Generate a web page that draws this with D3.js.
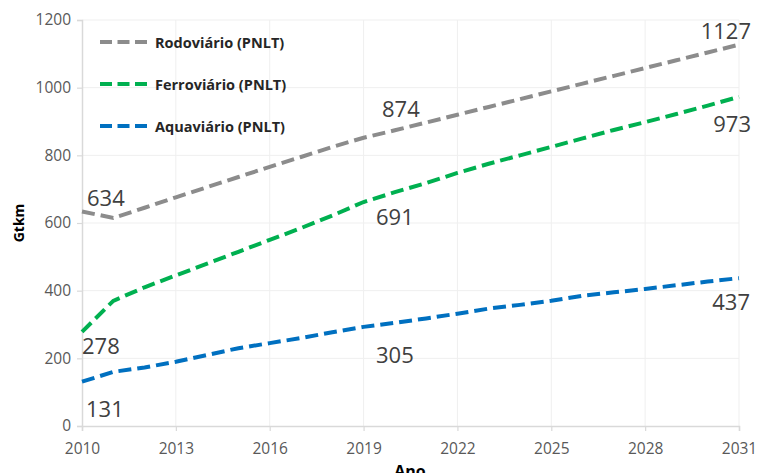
<!DOCTYPE html>
<html><head><meta charset="utf-8">
<script src="https://cdn.jsdelivr.net/npm/d3@7"></script>
<style>body{margin:0;background:#fff}svg{display:block}</style>
</head><body>
<svg id="c" width="758" height="473"></svg>
<script>
const years = d3.range(2010, 2032);
const rodoviario = [634,615,645,676,706,736,766,795,825,852,874,897,920,943,966,989,1012,1035,1058,1081,1104,1127];
const ferroviario = [278,370,410,445,480,515,550,585,622,662,691,718,748,775,800,825,850,875,898,922,947,973];
const aquaviario = [131,160,173,190,210,230,245,260,277,293,305,318,332,347,358,370,385,395,405,416,427,437];
const seriesNames = ["Rodoviário (PNLT)","Ferroviário (PNLT)","Aquaviário (PNLT)"];
const seriesColors = ["#8c8c8c","#00b050","#0070c0"];
const xTicks = [2010,2013,2016,2019,2022,2025,2028,2031];
const yTicks = [0,200,400,600,800,1000,1200];
// point labels: [seriesIndex, year, text]
const pointLabels = [[0,2010,"634"],[0,2020,"874"],[0,2031,"1127"],[1,2010,"278"],[1,2020,"691"],[1,2031,"973"],[2,2010,"131"],[2,2020,"305"],[2,2031,"437"]];

const svg = d3.select("#c");
const x = d3.scaleLinear().domain([2010,2031]).range([82,739]);
const y = d3.scaleLinear().domain([0,1200]).range([426,20]);
const data = [rodoviario, ferroviario, aquaviario];

// grid
svg.append("g").selectAll("line").data(yTicks.slice(1)).join("line")
  .attr("x1",82).attr("x2",739).attr("y1",d=>y(d)).attr("y2",d=>y(d))
  .attr("stroke","#efefef").attr("stroke-width",1);
svg.append("g").selectAll("line").data(xTicks.slice(1)).join("line")
  .attr("x1",d=>x(d)).attr("x2",d=>x(d)).attr("y1",20).attr("y2",426)
  .attr("stroke","#efefef").attr("stroke-width",1);

// axes
const gx = svg.append("g").attr("transform","translate(0,426)")
  .call(d3.axisBottom(x).tickValues(xTicks).tickFormat(d3.format("d")).tickSize(5).tickPadding(12));
const gy = svg.append("g").attr("transform","translate(82,0)")
  .call(d3.axisLeft(y).tickValues(yTicks).tickFormat(d3.format("d")).tickSize(5).tickPadding(6));
[gx,gy].forEach(g=>{
  g.select(".domain").attr("stroke","#d9d9d9").attr("stroke-width",1.5);
  g.selectAll(".tick line").attr("stroke","#d9d9d9").attr("stroke-width",1.2);
  g.selectAll(".tick text").attr("fill","#595959").attr("font-family","'Open Sans',sans-serif").attr("font-size","15.5px");
});

// lines
const line = d3.line().x((d,i)=>x(years[i])).y(d=>y(d));
svg.append("g").selectAll("path").data(data).join("path")
  .attr("d",line).attr("fill","none")
  .attr("stroke",(d,i)=>seriesColors[i]).attr("stroke-width",4)
  .attr("stroke-dasharray","13,6");

// point labels
const offs = {"0-2010":[5,-5,"start"],"0-2020":[6,-13,"middle"],"0-2031":[12,-6,"end"],
  "1-2010":[0,22,"start"],"1-2020":[0,33,"middle"],"1-2031":[12,35,"end"],
  "2-2010":[4,35,"start"],"2-2020":[0,40,"middle"],"2-2031":[11,32,"end"]};
svg.append("g").selectAll("text").data(pointLabels).join("text")
  .attr("x",d=>x(d[1])+offs[d[0]+"-"+d[1]][0])
  .attr("y",d=>y(data[d[0]][years.indexOf(d[1])])+offs[d[0]+"-"+d[1]][1])
  .attr("text-anchor",d=>offs[d[0]+"-"+d[1]][2])
  .attr("font-family","'Open Sans',sans-serif").attr("font-size","22px").attr("fill","#404040")
  .text(d=>d[2]);

// legend
const lg = svg.append("g").selectAll("g").data(seriesNames).join("g")
  .attr("transform",(d,i)=>`translate(100,${42+i*42})`);
lg.append("line").attr("x1",0).attr("x2",47).attr("y1",0).attr("y2",0)
  .attr("stroke",(d,i)=>seriesColors[i]).attr("stroke-width",4).attr("stroke-dasharray","12,5.5");
lg.append("text").attr("x",55).attr("y",5.5).text(d=>d)
  .attr("font-family","'Open Sans',sans-serif").attr("font-weight","bold").attr("font-size","14.5px").attr("fill","#262626");

// axis titles
svg.append("text").attr("transform","translate(24,223) rotate(-90)").attr("text-anchor","middle")
  .attr("font-family","'Open Sans',sans-serif").attr("font-weight","bold").attr("font-size","14px").attr("fill","#000").text("Gtkm");
svg.append("text").attr("x",410).attr("y",477).attr("text-anchor","middle")
  .attr("font-family","'Open Sans',sans-serif").attr("font-weight","bold").attr("font-size","16px").attr("fill","#000").text("Ano");
</script>
</body></html>
